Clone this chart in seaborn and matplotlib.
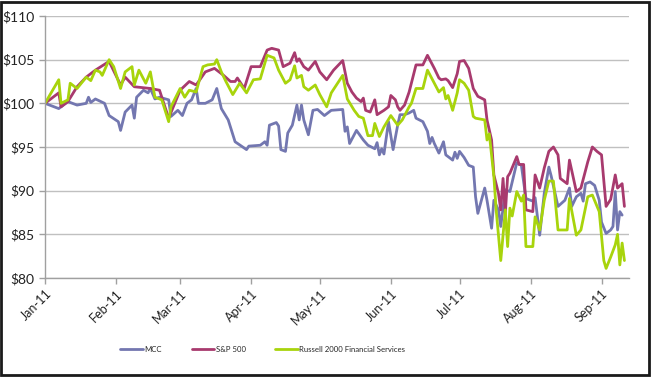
import pandas as pd
import seaborn as sns
import matplotlib.pyplot as plt
from matplotlib.patches import Rectangle
from matplotlib.ticker import FuncFormatter

# days since 2011-01-01, values indexed to $100
mcc_day = [0, 3, 6, 7, 10, 14, 18, 19, 20, 22, 26, 28, 32, 33, 35, 38, 39, 40, 43, 45,
           46, 48, 50, 54, 55, 58, 60, 62, 64, 66, 67, 70, 73, 75, 77, 80, 83, 88, 89, 94,
           96, 97, 98, 101, 102, 103, 105, 106, 108, 110, 111, 112, 113, 115, 117, 119, 122, 125, 130, 131,
           132, 133, 136, 139, 141, 144, 145, 146, 147, 148, 150, 152, 154, 155, 157, 159, 161, 162, 165, 167,
           168, 169, 170, 172, 174, 175, 178, 179, 180, 181, 183, 185, 187, 188, 189, 192, 193, 195, 196, 198,
           199, 201, 203, 206, 208, 210, 213, 214, 216, 218, 220, 221, 224, 227, 229, 230, 232, 234, 235, 236,
           238, 240, 242, 243, 245, 247, 248, 249, 250, 251, 252]
mcc_val = [100, 99.7, 99.4, 99.6, 100.2, 99.8, 100, 100.7, 100.1, 100.5, 100, 98.6, 97.9, 96.9, 99, 99.8, 98.3, 100.7, 101.5, 101.2,
           101.7, 100.5, 100.7, 100.4, 98.5, 99.2, 98.6, 100, 100.4, 101.7, 100, 100, 100.4, 101.7, 99.4, 98.1, 95.6, 94.7, 95.1, 95.2,
           95.6, 95.2, 97.5, 97.8, 97.4, 94.7, 94.5, 96.6, 97.5, 99.8, 98.1, 99.8, 98.1, 96.4, 99.2, 99.3, 98.6, 99.2, 99.3, 96.8,
           97.3, 95.4, 96.9, 95.8, 95.2, 94.8, 95.5, 94.1, 94.8, 94.2, 97.9, 94.7, 97.5, 98.7, 98.7, 98.9, 99.2, 98.3, 97.9, 96.8,
           95.4, 96.1, 95.4, 94.3, 95.6, 94.1, 93.5, 94.4, 93.7, 94.5, 93.8, 92.9, 92.7, 89.3, 87.4, 90.3, 88.9, 85.7, 88.9, 87.8,
           85.9, 90.1, 89.9, 93.2, 92.9, 89.1, 88.8, 89.2, 84.9, 89.7, 92.7, 91.7, 88.2, 88.9, 90.3, 88.2, 89.3, 89.7, 88.8, 90.8,
           91, 90.6, 88.9, 86.4, 85.1, 85.5, 85.9, 89.9, 85.5, 87.6, 87.2]

sp_day = [0, 6, 7, 10, 14, 18, 22, 28, 33, 35, 39, 46, 50, 54, 59, 63, 66, 70, 74, 76,
          78, 81, 83, 84, 87, 90, 94, 97, 99, 102, 104, 107, 109, 110, 111, 113, 115, 118, 120, 123,
          126, 130, 132, 134, 136, 138, 139, 140, 142, 144, 145, 148, 150, 151, 153, 154, 155, 157, 159, 162,
          165, 167, 170, 172, 173, 175, 176, 178, 180, 181, 183, 185, 187, 189, 192, 193, 195, 196, 198, 199,
          200, 201, 202, 203, 206, 207, 209, 210, 213, 214, 216, 218, 220, 222, 224, 225, 228, 229, 232, 234,
          237, 239, 241, 243, 245, 247, 249, 250, 252, 253]
sp_val = [100, 101.2, 99.6, 100.2, 101.9, 103, 103.8, 104.8, 102.1, 103, 101.9, 101.7, 101.5, 98.3, 101.5, 102.5, 102.1, 103.6, 104, 103.6,
          103.2, 102.5, 102.5, 102.9, 101.7, 104.2, 104.2, 106.1, 106.3, 106.1, 104.2, 104.6, 105.8, 104.8, 105.1, 104.2, 103.8, 104.8, 103.6, 102.7,
          103.8, 104.9, 102.3, 101.3, 100.6, 100.2, 100.6, 99.2, 99, 100.4, 98.7, 99.2, 99.6, 100.9, 100.4, 99.6, 99.2, 99.8, 101.3, 104.4,
          104.4, 105.5, 104, 102.9, 102.7, 102.8, 102.6, 101.8, 103.4, 104.8, 104.9, 104, 101.7, 100.8, 100.4, 98.1, 95.8, 91.8, 89.7, 87.8,
          91.4, 87.4, 91.6, 92, 93.9, 93, 93, 87.8, 87.6, 91.8, 90.3, 92.6, 94.5, 95, 94.1, 91.4, 90.8, 93.5, 89.9, 90.3,
          93.3, 95, 94.5, 94.1, 88.2, 89, 91.8, 90.3, 90.8, 88.2]

rus_day = [0, 6, 7, 10, 11, 14, 18, 20, 22, 24, 25, 28, 30, 33, 35, 38, 39, 41, 44, 46,
           48, 51, 54, 55, 59, 61, 63, 66, 69, 71, 74, 75, 77, 79, 82, 85, 88, 91, 94, 97,
           100, 102, 105, 107, 109, 110, 112, 113, 115, 118, 120, 123, 125, 130, 132, 135, 137, 139, 141, 143,
           144, 146, 148, 151, 154, 156, 159, 160, 162, 165, 167, 170, 172, 174, 175, 176, 178, 180, 181, 183,
           185, 187, 188, 192, 193, 194, 196, 197, 199, 201, 202, 203, 204, 206, 208, 209, 210, 213, 214, 216,
           218, 220, 222, 224, 228, 229, 232, 234, 237, 239, 242, 244, 245, 247, 249, 250, 251, 252, 253]
rus_val = [100, 102.7, 100, 100.4, 102.3, 101.7, 103, 102.6, 103.8, 103.6, 103.2, 105, 104.2, 101.7, 103.6, 104.2, 102.1, 103.8, 102.3, 103.6,
           100.7, 100.4, 97.9, 99.6, 101.7, 100.7, 101.5, 101.3, 104.2, 104.4, 104.5, 105, 103.6, 102.5, 101, 102.3, 101.2, 102.7, 102.8, 105.5,
           105.2, 103.8, 102.3, 102.7, 104.3, 102.9, 103.2, 101.9, 101.5, 102.1, 101, 99.6, 101.2, 103.2, 100.5, 99.2, 98.5, 98.3, 96.3, 96.3,
           97.7, 96.2, 97.3, 98.6, 97.5, 98.1, 99.6, 100, 101.7, 101.7, 103.8, 102.3, 101.3, 101.8, 100.5, 100.9, 99.2, 101.2, 102.7, 102.3,
           101.5, 98.5, 98.3, 98.1, 95.8, 96.5, 91.6, 87.8, 82, 87.8, 83.6, 88, 87.1, 89.9, 88.8, 89.5, 83.6, 83.6, 87, 85.5,
           88.9, 91.1, 91.1, 85.5, 85.5, 89.1, 84.9, 85.5, 89.3, 89.5, 87.6, 82, 81.1, 82.4, 83.8, 85, 81.5, 84, 82]

series_names = ['MCC', 'S&P 500', 'Russell 2000 Financial Services']
series_colors = ['#7377b0', '#a83a6e', '#a8d40c']
month_labels = ['Jan-11', 'Feb-11', 'Mar-11', 'Apr-11', 'May-11', 'Jun-11', 'Jul-11', 'Aug-11', 'Sep-11']

start = pd.Timestamp('2011-01-01')
frames = []
for name, days, vals in [(series_names[0], mcc_day, mcc_val),
                         (series_names[1], sp_day, sp_val),
                         (series_names[2], rus_day, rus_val)]:
    frames.append(pd.DataFrame({
        'date': start + pd.to_timedelta(days, unit='D'),
        'value': vals,
        'series': name,
    }))
df = pd.concat(frames, ignore_index=True)

sns.set_style('white')
plt.rcParams['font.family'] = ['Lato', 'DejaVu Sans']

fig = plt.figure(figsize=(6.51, 3.77), dpi=100)
ax = fig.add_axes([45 / 651, 1 - 278 / 377, 584 / 651, 262 / 377])

sns.lineplot(data=df, x='date', y='value', hue='series', hue_order=series_names,
             palette=series_colors, estimator=None, sort=False, linewidth=2.0, ax=ax)

ax.set_ylim(80, 110)
ax.set_yticks(range(80, 111, 5))
ax.yaxis.set_major_formatter(FuncFormatter(lambda v, p: f'${v:.0f}'))
ax.set_xlim(start, pd.Timestamp('2011-09-13'))
ticks = pd.date_range('2011-01-01', periods=9, freq='MS')
ax.set_xticks(ticks)
ax.set_xticklabels(month_labels, rotation=45, ha='right', rotation_mode='anchor')
ax.set_xlabel('')
ax.set_ylabel('')

ax.grid(axis='y', color='#c0c0c0', linewidth=1.0)
ax.grid(axis='x', visible=False)
for side in ['top', 'right']:
    ax.spines[side].set_visible(False)
for side in ['left', 'bottom']:
    ax.spines[side].set_color('#a0a0a0')
    ax.spines[side].set_linewidth(1.0)
ax.tick_params(axis='both', which='both', direction='out', length=4, width=1,
               color='#a0a0a0', labelsize=10, labelcolor='#222222', bottom=True, left=True)
ax.tick_params(axis='x', labelsize=9, pad=3)

handles, labels = ax.get_legend_handles_labels()
ax.legend(handles, labels, loc='center', bbox_to_anchor=(0.373, -0.271), ncol=3,
          frameon=False, fontsize=5.6, handlelength=2.9, columnspacing=3.8, handletextpad=0.2)

fig.patches.append(Rectangle((0.002, 0.004), 0.995, 0.992, transform=fig.transFigure,
                             fill=False, edgecolor='#1a1a1a', linewidth=2.0))

fig.savefig('out.png', dpi=100)
plt.close(fig)
